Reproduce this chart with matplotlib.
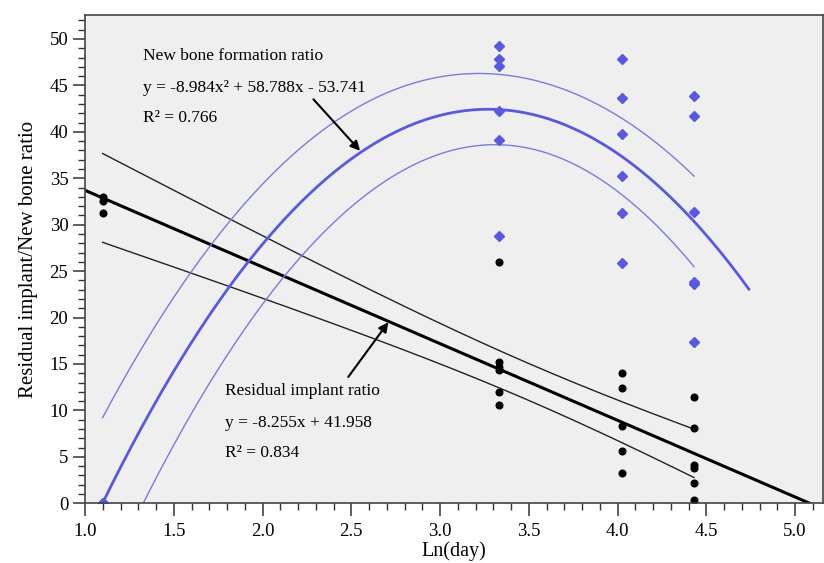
import numpy as np
import matplotlib
matplotlib.use("Agg")
import matplotlib.pyplot as plt
from matplotlib.ticker import MultipleLocator, FormatStrFormatter

plt.rcParams['font.family'] = ['Liberation Serif', 'DejaVu Serif']

# Ln(day) for each sampling time
ln_day = [1.099, 3.332, 4.025, 4.431]

# Residual implant ratio (%) per time point
residual = {
    1.099: [33.0, 32.6, 31.25],
    3.332: [26.0, 15.26, 14.7, 14.4, 12.0, 10.6],
    4.025: [14.07, 12.4, 8.37, 5.67, 3.3],
    4.431: [11.4, 8.1, 4.12, 3.84, 2.15, 0.36],
}

# New bone formation ratio (%) per time point
new_bone = {
    1.099: [0.0, 0.0, 0.0],
    3.332: [49.2, 47.8, 47.1, 42.2, 39.1, 28.8],
    4.025: [47.8, 43.6, 39.8, 35.2, 31.3, 25.9],
    4.431: [43.9, 41.7, 31.4, 23.8, 23.6, 17.35],
}

# Fitted models
lin_coef = [-8.255, 41.958]            # slope, intercept
quad_coef = [-8.984, 58.788, -53.741]  # a, b, c
lin_r2 = 0.834
quad_r2 = 0.766

# two-sided 95% Student t quantiles
T95 = {15: 2.131, 16: 2.120, 17: 2.110, 18: 2.101, 19: 2.093}

BLUE = '#5858e0'
BLUE_LIGHT = '#7a7ae0'


def flatten(d):
    xs, ys = [], []
    for k in ln_day:
        xs += [k] * len(d[k])
        ys += d[k]
    return np.array(xs), np.array(ys)


def conf_band(x, xs, ys, model, n_par):
    """95% confidence half-width around a fitted curve."""
    n = len(xs)
    df = n - n_par
    s = np.sqrt(np.sum((ys - model(xs)) ** 2) / df)
    xbar = xs.mean()
    sxx = np.sum((xs - xbar) ** 2)
    return T95.get(df, 2.1) * s * np.sqrt(1 / n + (x - xbar) ** 2 / sxx)


xr, yr = flatten(residual)
xb, yb = flatten(new_bone)

fig = plt.figure(figsize=(8.24, 5.63), dpi=100)
ax = fig.add_axes([85 / 824, 59.7 / 563, 738 / 824, 488 / 563])
ax.set_facecolor('#efefef')

xx = np.linspace(ln_day[0], ln_day[-1], 200)

# --- residual implant: linear fit with confidence band ---
lin = np.poly1d(lin_coef)
half = conf_band(xx, xr, yr, lin, 2)
ax.plot(xx, lin(xx) + half, color='#222222', lw=1.0)
ax.plot(xx, lin(xx) - half, color='#222222', lw=1.0)
xl = np.linspace(1.0, 5.2, 200)
ax.plot(xl, lin(xl), color='black', lw=2.2)

# --- new bone: quadratic fit with confidence band ---
quad = np.poly1d(quad_coef)
halfq = conf_band(xx, xb, yb, quad, 3)
ax.plot(xx, quad(xx) + halfq, color=BLUE_LIGHT, lw=1.0)
ax.plot(xx, quad(xx) - halfq, color=BLUE_LIGHT, lw=1.0)
xq = np.linspace(ln_day[0], 4.74, 200)
ax.plot(xq, quad(xq), color=BLUE, lw=2.0)

# --- observations ---
ax.plot(xb, yb, 'D', color=BLUE, ms=4.6, mec=BLUE, ls='none')
ax.plot(xr, yr, 'o', color='black', ms=4.8, ls='none')

# --- annotations ---
fs = 12.5
ax.text(1.327, 47.7, 'New bone formation ratio', fontsize=fs)
ax.text(1.327, 44.3,
        f'y = {quad_coef[0]:.3f}x\u00b2 + {quad_coef[1]:.3f}x - {abs(quad_coef[2]):.3f}',
        fontsize=fs)
ax.text(1.327, 41.1, f'R\u00b2 = {quad_r2:.3f}', fontsize=fs)
ax.annotate('', xy=(2.55, quad(2.55) + 0.2), xytext=(2.287, 43.5),
            arrowprops=dict(arrowstyle='-|>', color='black', lw=1.5,
                            mutation_scale=14, shrinkA=0, shrinkB=0))

ax.text(1.789, 11.66, 'Residual implant ratio', fontsize=fs)
ax.text(1.789, 8.25, f'y = {lin_coef[0]:.3f}x + {lin_coef[1]:.3f}', fontsize=fs)
ax.text(1.789, 5.02, f'R\u00b2 = {lin_r2:.3f}', fontsize=fs)
ax.annotate('', xy=(2.709, lin(2.709) - 0.1), xytext=(2.483, 13.6),
            arrowprops=dict(arrowstyle='-|>', color='black', lw=1.5,
                            mutation_scale=14, shrinkA=0, shrinkB=0))

# --- axes ---
ax.set_xlim(1.0, 1.0 + 738 / 177.5)
ax.set_ylim(0, 488 / 9.287)
ax.xaxis.set_major_locator(MultipleLocator(0.5))
ax.xaxis.set_minor_locator(MultipleLocator(0.1))
ax.yaxis.set_major_locator(MultipleLocator(5))
ax.yaxis.set_minor_locator(MultipleLocator(1))
ax.xaxis.set_major_formatter(FormatStrFormatter('%.1f'))
ax.tick_params(which='major', length=9, width=1.1, labelsize=13.5, color='#333333')
ax.tick_params(axis='x', which='major', pad=5)
ax.tick_params(axis='y', which='major', pad=3)
ax.tick_params(which='minor', length=5, width=1.0, color='#333333')
for sp in ax.spines.values():
    sp.set_color('#444444')
    sp.set_linewidth(1.2)

ax.set_xlabel('Ln(day)', fontsize=14.5, labelpad=1)
ax.set_ylabel('Residual implant/New bone ratio', fontsize=15, labelpad=8)

fig.savefig('out.png', dpi=100)
